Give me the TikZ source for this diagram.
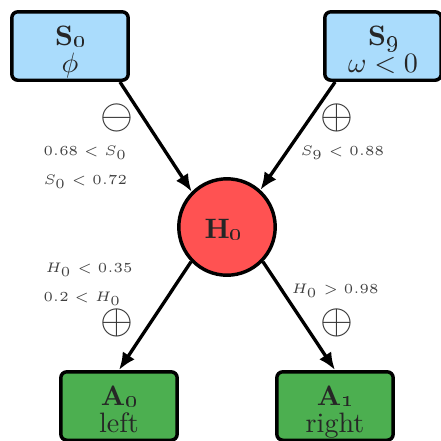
\RequirePackage{fix-cm}
\documentclass[tikz,border=0pt]{standalone}
\usetikzlibrary{arrows.meta,calc}
\DeclareMathSizes{5.4}{5.4}{5.4}{5.4}
\definecolor{sblue}{RGB}{170,220,252}
\definecolor{hred}{RGB}{255,82,82}
\definecolor{agreen}{RGB}{76,175,80}
\tikzset{
  box/.style={draw=black, line width=1.35pt, rounded corners=2.4pt, minimum width=45.4pt, minimum height=26.7pt, inner sep=0pt},
  hnode/.style={circle, draw=black, fill=hred, line width=1.35pt, minimum size=37.6pt, inner sep=0pt},
  ttl/.style={anchor=base, text=black!85, font=\fontsize{10.95}{13.6}\selectfont, inner sep=0pt},
  conn/.style={line width=1.3pt, -{Latex[length=6.8pt,width=5.6pt]}},
  cond/.style={anchor=west, text=black!75, font=\fontsize{5.4}{6}\selectfont, inner sep=0pt},
  sgn/.style={text=black!80, font=\fontsize{16.5}{19}\selectfont, inner sep=0pt},
}
\newcommand{\bsub}[2]{\textbf{#1}\raisebox{-0.4pt}{\fontsize{9}{10}\selectfont\bfseries\oldstylenums{#2}}}
\begin{document}
\begin{tikzpicture}[x=0.39pt,y=-0.39pt]
\useasboundingbox (0,0) rectangle (441,441);
\clip (0,0) rectangle (441,441);
% nodes
\node[box, fill=sblue] (S0) at (70,46) {};
\node[box, fill=sblue] (S9) at (383,46) {};
\node[hnode] (H0) at (227,227) {};
\node[box, fill=agreen] (A0) at (119,406) {};
\node[box, fill=agreen] (A1) at (335,406) {};
% texts
\node[ttl] (S0t) at ([yshift=-13.65pt]S0.north) {\bsub{S}{0}};
\node[ttl] (S0s) at ([yshift=-24.2pt]S0.north) {$\phi$};
\node[ttl] (S9t) at ([yshift=-13.65pt]S9.north) {\bsub{S}{9}};
\node[ttl] (S9s) at ([yshift=-24.2pt]S9.north) {$\omega < 0$};
\node[ttl, anchor=center] (H0t) at ([xshift=-1.5pt,yshift=-0.8pt]H0.center) {\bsub{H}{0}};
\node[ttl] (A0t) at ([yshift=-13.65pt]A0.north) {\bsub{A}{0}};
\node[ttl] (A0s) at ([yshift=-24.2pt]A0.north) {left};
\node[ttl] (A1t) at ([yshift=-13.65pt]A1.north) {\bsub{A}{1}};
\node[ttl] (A1s) at ([yshift=-24.2pt]A1.north) {right};
% connectors
\draw[conn] ([xshift=-3.9pt]S0.south east) -- (H0.135);
\draw[conn] ([xshift=4.7pt]S9.south west) -- (H0.48);
\draw[conn] (H0.224) -- (A0.north);
\draw[conn] (H0.316) -- (A1.north);
% conditions
\node[sgn] (m1) at (117,118) {$\ominus$};
\node[cond] (c1) at (43,153) {$0.68 < S_0$};
\node[cond] (c2) at (43,182) {$S_0 < 0.72$};
\node[sgn] (p1) at (337,118) {$\oplus$};
\node[cond] (c3) at (300,153) {$S_9 < 0.88$};
\node[cond] (c4) at (45,270) {$H_0 < 0.35$};
\node[cond] (c5) at (43,299) {$0.2 < H_0$};
\node[sgn] (p2) at (117,323) {$\oplus$};
\node[cond] (c6) at (291,291) {$H_0 > 0.98$};
\node[sgn] (p3) at (337,323) {$\oplus$};
\end{tikzpicture}
\end{document}
